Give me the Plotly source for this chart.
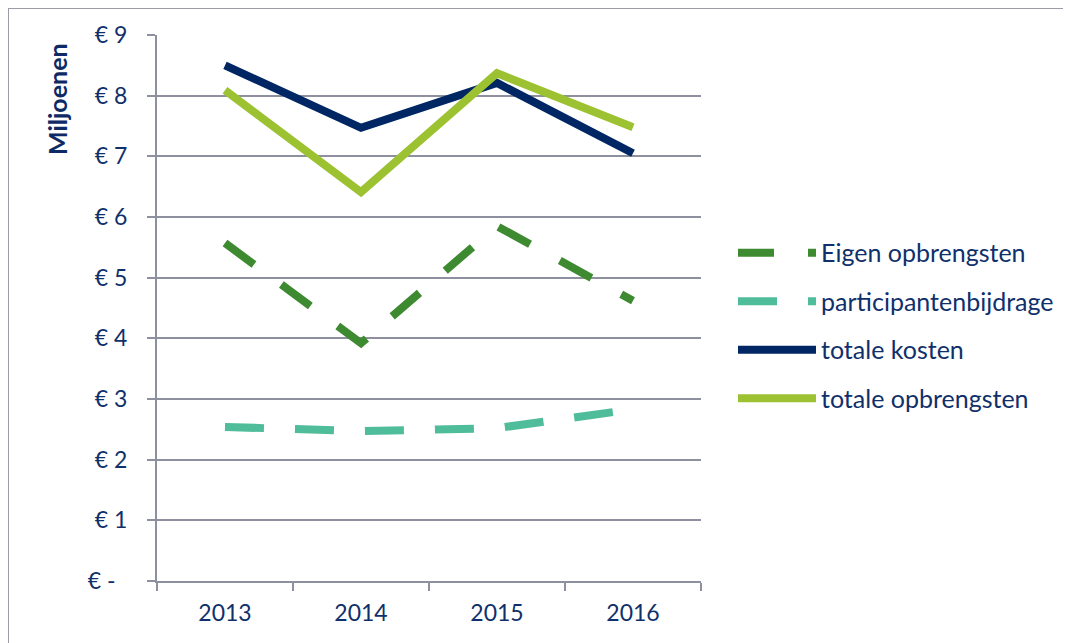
import plotly.graph_objects as go

years = ["2013", "2014", "2015", "2016"]
eigen_opbrengsten = [5.57, 3.92, 5.85, 4.62]
participantenbijdrage = [2.54, 2.47, 2.52, 2.83]
totale_kosten = [8.50, 7.47, 8.21, 7.05]
totale_opbrengsten = [8.09, 6.41, 8.37, 7.48]

y_ticks = [0, 1, 2, 3, 4, 5, 6, 7, 8, 9]
y_ticktext = ["€ -\u00a0\u00a0"] + [f"€ {v}" for v in y_ticks[1:]]

TEXT = "#10306B"
GRID = "#8E909F"
FONT = "Lato"

# page body has an 8px margin, so figure coords = screenshot coords - 8
L, T, R, B = 149, 27, 693, 573
PW, PH = R - L, B - T

fig = go.Figure()
series = [
    ("Eigen opbrengsten", eigen_opbrengsten, "#3E8A30", "36px,34px"),
    ("participantenbijdrage", participantenbijdrage, "#4FBC9A", "39px,31px"),
    ("totale kosten", totale_kosten, "#002663", "solid"),
    ("totale opbrengsten", totale_opbrengsten, "#9CC231", "solid"),
]
for i, (name, vals, col, dash) in enumerate(series):
    fig.add_trace(go.Scatter(
        x=years, y=vals, name=name, mode="lines",
        line=dict(color=col, width=8, dash=dash),
        legendgroup=f"g{i}",
    ))

fig.update_layout(
    width=1071, height=643,
    margin=dict(l=L, r=1071 - R, t=T, b=643 - B),
    paper_bgcolor="white", plot_bgcolor="white",
    font=dict(family=FONT, color=TEXT, size=23),
    showlegend=True,
    legend=dict(
        x=(725 - L) / PW, y=0.643, xanchor="left", yanchor="top",
        font=dict(family=FONT, size=25, color=TEXT),
        itemwidth=78, tracegroupgap=13, bgcolor="rgba(0,0,0,0)",
    ),
    xaxis=dict(
        type="category", range=[-0.5, 3.5],
        showline=True, linecolor=GRID, linewidth=2,
        ticks="outside", ticklen=8, tickcolor=GRID, tickwidth=2,
        tickson="boundaries", showgrid=False, ticklabelstandoff=10,
        tickfont=dict(family=FONT, size=23, color=TEXT),
    ),
    yaxis=dict(
        range=[0, 9], tickvals=y_ticks, ticktext=y_ticktext,
        showline=True, linecolor=GRID, linewidth=2,
        ticks="outside", ticklen=8, tickcolor=GRID, tickwidth=2,
        showgrid=True, gridcolor=GRID, gridwidth=2, zeroline=False,
        ticklabelstandoff=15,
        tickfont=dict(family=FONT, size=23, color=TEXT),
    ),
    annotations=[dict(
        text="<b>Miljoenen</b>", textangle=-90,
        xref="paper", yref="paper",
        x=(49 - L) / PW, y=(B - 91) / PH,
        xanchor="center", yanchor="middle", showarrow=False,
        font=dict(family=FONT, size=25, color="#0D2A66"),
    )],
    shapes=[dict(
        type="rect", xref="paper", yref="paper",
        x0=(0 - L) / PW, x1=(1090 - L) / PW,
        y0=(B - 660) / PH, y1=(B + 0) / PH,
        line=dict(color="#9A9CA8", width=2), fillcolor="rgba(0,0,0,0)",
        layer="below",
    )],
)

fig.write_html("out.html")
